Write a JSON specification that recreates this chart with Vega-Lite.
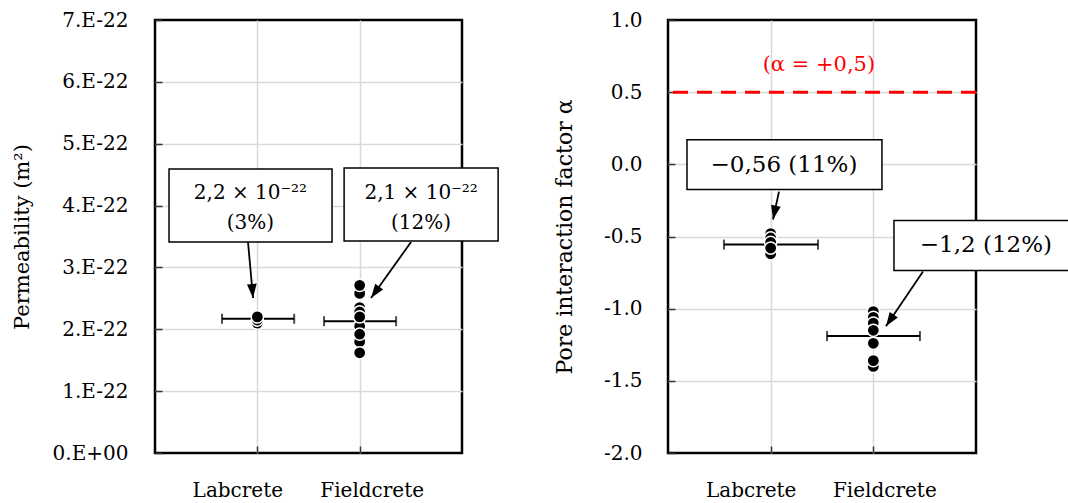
{
  "$schema": "https://vega.github.io/schema/vega-lite/v6.json",
  "padding": {"left": 9, "top": 8, "right": 5, "bottom": 5},
  "bounds": "flush",
  "spacing": 206,
  "background": "white",
  "datasets": {
    "perm": [
      {"material": "Labcrete", "pos": 1, "k": 2.10e-22},
      {"material": "Labcrete", "pos": 1, "k": 2.15e-22},
      {"material": "Labcrete", "pos": 1, "k": 2.20e-22},
      {"material": "Fieldcrete", "pos": 2, "k": 2.58e-22},
      {"material": "Fieldcrete", "pos": 2, "k": 2.71e-22},
      {"material": "Fieldcrete", "pos": 2, "k": 2.35e-22},
      {"material": "Fieldcrete", "pos": 2, "k": 2.28e-22},
      {"material": "Fieldcrete", "pos": 2, "k": 2.05e-22},
      {"material": "Fieldcrete", "pos": 2, "k": 2.20e-22},
      {"material": "Fieldcrete", "pos": 2, "k": 1.80e-22},
      {"material": "Fieldcrete", "pos": 2, "k": 1.92e-22},
      {"material": "Fieldcrete", "pos": 2, "k": 1.62e-22}
    ],
    "perm_err": [
      {"material": "Labcrete", "k": 2.17e-22, "lo": 0.655, "hi": 1.36},
      {"material": "Fieldcrete", "k": 2.13e-22, "lo": 1.652, "hi": 2.356}
    ],
    "perm_note": [
      {"material": "Labcrete", "label": "2,2 × 10⁻²²\n(3%)", "x1": 0.137, "x2": 1.73, "y1": 3.41e-22, "y2": 4.59e-22, "tx": 0.933, "ty": 4.2e-22, "ax": 0.909, "ay": 3.41e-22, "tipx": 0.958, "tipy": 2.506e-22},
      {"material": "Fieldcrete", "label": "2,1 × 10⁻²²\n(12%)", "x1": 1.848, "x2": 3.353, "y1": 3.427e-22, "y2": 4.607e-22, "tx": 2.6, "ty": 4.2e-22, "ax": 2.502, "ay": 3.41e-22, "tipx": 2.111, "tipy": 2.506e-22}
    ],
    "alpha": [
      {"material": "Labcrete", "pos": 1, "a": -0.62},
      {"material": "Labcrete", "pos": 1, "a": -0.48},
      {"material": "Labcrete", "pos": 1, "a": -0.51},
      {"material": "Labcrete", "pos": 1, "a": -0.54},
      {"material": "Labcrete", "pos": 1, "a": -0.58},
      {"material": "Fieldcrete", "pos": 2, "a": -1.02},
      {"material": "Fieldcrete", "pos": 2, "a": -1.06},
      {"material": "Fieldcrete", "pos": 2, "a": -1.10},
      {"material": "Fieldcrete", "pos": 2, "a": -1.24},
      {"material": "Fieldcrete", "pos": 2, "a": -1.40},
      {"material": "Fieldcrete", "pos": 2, "a": -1.36},
      {"material": "Fieldcrete", "pos": 2, "a": -1.15}
    ],
    "alpha_err": [
      {"material": "Labcrete", "a": -0.556, "lo": 0.545, "hi": 1.461},
      {"material": "Fieldcrete", "a": -1.19, "lo": 1.549, "hi": 2.454}
    ],
    "alpha_note": [
      {"material": "Labcrete", "label": "−0,56 (11%)", "x1": 0.185, "x2": 2.084, "y1": -0.175, "y2": 0.17, "tx": 1.13, "ty": -0.003, "ax": 1.081, "ay": -0.189, "tipx": 1.023, "tipy": -0.382},
      {"material": "Fieldcrete", "label": "−1,2 (12%)", "x1": 2.201, "x2": 3.993, "y1": -0.735, "y2": -0.389, "tx": 3.097, "ty": -0.562, "ax": 2.484, "ay": -0.742, "tipx": 2.123, "tipy": -1.122}
    ],
    "ref": [
      {"label": "(α = +0,5)", "a": 0.5, "tx": 1.47, "ty": 0.69}
    ]
  },
  "hconcat": [
    {
      "width": 307,
      "height": 433,
      "layer": [
        {
          "data": {"name": "perm_err"},
          "mark": {"type": "rule", "color": "black", "strokeWidth": 2},
          "encoding": {
            "x": {"field": "lo", "type": "quantitative", "scale": {"domain": [0, 3], "nice": false, "zero": false},
                  "axis": {"title": null, "values": [1, 2], "labelExpr": "datum.value == 1 ? 'Labcrete' : 'Fieldcrete'",
                           "labelOffset": {"condition": {"test": "datum.value == 1", "value": -20}, "value": 12},
                           "labelPadding": 34, "grid": true, "labelFlush": false}},
            "x2": {"field": "hi"},
            "y": {"field": "k", "type": "quantitative", "scale": {"domain": [0, 7e-22], "nice": false, "zero": false},
                  "axis": {"title": "Permeability (m²)", "titleFontSize": 21, "values": [0, 1e-22, 2e-22, 3e-22, 4e-22, 5e-22, 6e-22, 7e-22],
                           "labelExpr": "datum.value == 0 ? '0.E+00' : round(datum.value * 1e22) + '.E-22'",
                           "gridColor": {"condition": {"test": "datum.value <= 0 || datum.value >= 6.9e-22", "value": "transparent"}, "value": "#d9d9d9"},
                           "labelPadding": 34, "titlePadding": 20, "grid": true, "labelFlush": false}}
          }
        },
        {
          "data": {"name": "perm_err"},
          "mark": {"type": "tick", "orient": "vertical", "size": 10, "thickness": 2, "color": "black"},
          "encoding": {
            "x": {"field": "lo", "type": "quantitative"},
            "y": {"field": "k", "type": "quantitative"}
          }
        },
        {
          "data": {"name": "perm_err"},
          "mark": {"type": "tick", "orient": "vertical", "size": 10, "thickness": 2, "color": "black"},
          "encoding": {
            "x": {"field": "hi", "type": "quantitative"},
            "y": {"field": "k", "type": "quantitative"}
          }
        },
        {
          "data": {"name": "perm"},
          "mark": {"type": "point", "shape": "circle", "filled": true, "fill": "black", "stroke": "white", "strokeWidth": 1.5, "size": 150, "opacity": 1},
          "encoding": {
            "x": {"field": "pos", "type": "quantitative"},
            "y": {"field": "k", "type": "quantitative"}
          }
        },
        {
          "data": {"name": "perm_note"},
          "mark": {"type": "rule", "color": "black", "strokeWidth": 1.8},
          "encoding": {
            "x": {"field": "ax", "type": "quantitative"},
            "y": {"field": "ay", "type": "quantitative"},
            "x2": {"field": "tipx"},
            "y2": {"field": "tipy"}
          }
        },
        {
          "data": {"name": "perm_note"},
          "transform": [{"filter": "datum.material == 'Labcrete'"}],
          "mark": {"type": "point", "shape": "M0,0L-0.7,-2L0.7,-2Z", "filled": true, "color": "black", "size": 196, "angle": -5, "opacity": 1},
          "encoding": {
            "x": {"field": "tipx", "type": "quantitative"},
            "y": {"field": "tipy", "type": "quantitative"}
          }
        },
        {
          "data": {"name": "perm_note"},
          "transform": [{"filter": "datum.material == 'Fieldcrete'"}],
          "mark": {"type": "point", "shape": "M0,0L-0.7,-2L0.7,-2Z", "filled": true, "color": "black", "size": 196, "angle": 35.5, "opacity": 1},
          "encoding": {
            "x": {"field": "tipx", "type": "quantitative"},
            "y": {"field": "tipy", "type": "quantitative"}
          }
        },
        {
          "data": {"name": "perm_note"},
          "mark": {"type": "rect", "fill": "white", "stroke": "black", "strokeWidth": 1.5},
          "encoding": {
            "x": {"field": "x1", "type": "quantitative"},
            "x2": {"field": "x2"},
            "y": {"field": "y1", "type": "quantitative"},
            "y2": {"field": "y2"}
          }
        },
        {
          "data": {"name": "perm_note"},
          "mark": {"type": "text", "font": "DejaVu Serif", "fontSize": 20, "lineBreak": "\n", "lineHeight": 30, "align": "center", "baseline": "middle", "color": "black"},
          "encoding": {
            "x": {"field": "tx", "type": "quantitative"},
            "y": {"field": "ty", "type": "quantitative"},
            "text": {"field": "label", "type": "nominal"}
          }
        }
      ]
    },
    {
      "width": 308,
      "height": 433,
      "layer": [
        {
          "data": {"name": "ref"},
          "mark": {"type": "rule", "color": "#ff0000", "strokeWidth": 3, "strokeDash": [15, 9]},
          "encoding": {
            "y": {"field": "a", "type": "quantitative", "scale": {"domain": [-2, 1], "nice": false, "zero": false},
                  "axis": {"title": "Pore interaction factor α", "titleFontSize": 22, "values": [-2, -1.5, -1, -0.5, 0, 0.5, 1],
                           "labelExpr": "replace(format(datum.value, '.1f'), '−', '-')",
                           "gridColor": {"condition": {"test": "datum.value <= -1.99 || datum.value >= 0.99", "value": "transparent"}, "value": "#d9d9d9"},
                           "labelPadding": 33, "titlePadding": 27, "grid": true, "labelFlush": false}}
          }
        },
        {
          "data": {"name": "alpha_err"},
          "mark": {"type": "rule", "color": "black", "strokeWidth": 2},
          "encoding": {
            "x": {"field": "lo", "type": "quantitative", "scale": {"domain": [0, 3], "nice": false, "zero": false},
                  "axis": {"title": null, "values": [1, 2], "labelExpr": "datum.value == 1 ? 'Labcrete' : 'Fieldcrete'",
                           "labelOffset": {"condition": {"test": "datum.value == 1", "value": -20}, "value": 11},
                           "labelPadding": 34, "grid": true, "labelFlush": false}},
            "x2": {"field": "hi"},
            "y": {"field": "a", "type": "quantitative"}
          }
        },
        {
          "data": {"name": "alpha_err"},
          "mark": {"type": "tick", "orient": "vertical", "size": 10, "thickness": 2, "color": "black"},
          "encoding": {
            "x": {"field": "lo", "type": "quantitative"},
            "y": {"field": "a", "type": "quantitative"}
          }
        },
        {
          "data": {"name": "alpha_err"},
          "mark": {"type": "tick", "orient": "vertical", "size": 10, "thickness": 2, "color": "black"},
          "encoding": {
            "x": {"field": "hi", "type": "quantitative"},
            "y": {"field": "a", "type": "quantitative"}
          }
        },
        {
          "data": {"name": "alpha"},
          "mark": {"type": "point", "shape": "circle", "filled": true, "fill": "black", "stroke": "white", "strokeWidth": 1.5, "size": 150, "opacity": 1},
          "encoding": {
            "x": {"field": "pos", "type": "quantitative"},
            "y": {"field": "a", "type": "quantitative"}
          }
        },
        {
          "data": {"name": "ref"},
          "mark": {"type": "text", "font": "DejaVu Serif", "fontSize": 21, "align": "center", "baseline": "middle", "color": "#ff0000"},
          "encoding": {
            "x": {"field": "tx", "type": "quantitative"},
            "y": {"field": "ty", "type": "quantitative"},
            "text": {"field": "label", "type": "nominal"}
          }
        },
        {
          "data": {"name": "alpha_note"},
          "mark": {"type": "rule", "color": "black", "strokeWidth": 1.8},
          "encoding": {
            "x": {"field": "ax", "type": "quantitative"},
            "y": {"field": "ay", "type": "quantitative"},
            "x2": {"field": "tipx"},
            "y2": {"field": "tipy"}
          }
        },
        {
          "data": {"name": "alpha_note"},
          "transform": [{"filter": "datum.material == 'Labcrete'"}],
          "mark": {"type": "point", "shape": "M0,0L-0.7,-2L0.7,-2Z", "filled": true, "color": "black", "size": 196, "angle": 12, "opacity": 1},
          "encoding": {
            "x": {"field": "tipx", "type": "quantitative"},
            "y": {"field": "tipy", "type": "quantitative"}
          }
        },
        {
          "data": {"name": "alpha_note"},
          "transform": [{"filter": "datum.material == 'Fieldcrete'"}],
          "mark": {"type": "point", "shape": "M0,0L-0.7,-2L0.7,-2Z", "filled": true, "color": "black", "size": 196, "angle": 34, "opacity": 1},
          "encoding": {
            "x": {"field": "tipx", "type": "quantitative"},
            "y": {"field": "tipy", "type": "quantitative"}
          }
        },
        {
          "data": {"name": "alpha_note"},
          "mark": {"type": "rect", "fill": "white", "stroke": "black", "strokeWidth": 1.5},
          "encoding": {
            "x": {"field": "x1", "type": "quantitative"},
            "x2": {"field": "x2"},
            "y": {"field": "y1", "type": "quantitative"},
            "y2": {"field": "y2"}
          }
        },
        {
          "data": {"name": "alpha_note"},
          "mark": {"type": "text", "font": "DejaVu Serif", "fontSize": 23, "align": "center", "baseline": "middle", "color": "black"},
          "encoding": {
            "x": {"field": "tx", "type": "quantitative"},
            "y": {"field": "ty", "type": "quantitative"},
            "text": {"field": "label", "type": "nominal"}
          }
        }
      ]
    }
  ],
  "config": {
    "font": "DejaVu Serif",
    "view": {"stroke": "black", "strokeWidth": 2.5},
    "axis": {
      "labelFont": "DejaVu Serif", "labelFontSize": 20, "labelColor": "black",
      "titleFont": "DejaVu Serif", "titleFontSize": 20, "titleFontWeight": "normal", "titleColor": "black",
      "gridColor": "#d9d9d9", "gridWidth": 1.5, "domain": false,
      "tickColor": "#333333", "tickWidth": 1.5, "tickSize": -7
    }
  }
}
